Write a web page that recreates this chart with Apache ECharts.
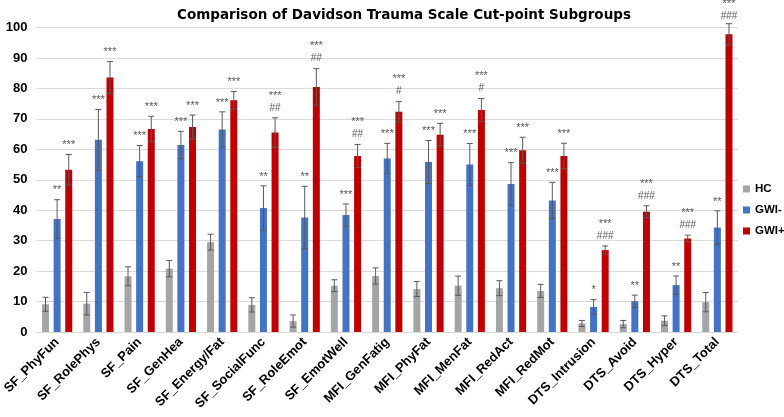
<!DOCTYPE html>
<html>
<head>
<meta charset="utf-8">
<script src="https://cdn.jsdelivr.net/npm/echarts@6/dist/echarts.min.js"></script>
<style>
html,body{margin:0;padding:0;background:#fff;}
#chart{width:784px;height:417px;}
</style>
</head>
<body>
<div id="chart"></div>
<script>
const categories = ['SF_PhyFun','SF_RolePhys','SF_Pain','SF_GenHea','SF_Energy/Fat','SF_SocialFunc','SF_RoleEmot','SF_EmotWell','MFI_GenFatig','MFI_PhyFat','MFI_MenFat','MFI_RedAct','MFI_RedMot','DTS_Intrusion','DTS_Avoid','DTS_Hyper','DTS_Total'];
const yTicks = [0,10,20,30,40,50,60,70,80,90,100];

const hcValues = [9.1, 9.3, 18.3, 20.8, 29.5, 8.9, 3.6, 15.2, 18.4, 14.1, 15.2, 14.4, 13.5, 2.8, 2.6, 3.7, 9.8];
const hcErr    = [2.3, 3.7, 3.1, 2.7, 2.6, 2.35, 2.0, 1.95, 2.65, 2.5, 3.15, 2.45, 2.15, 1.0, 1.2, 1.6, 3.15];

const gwiNegValues = [37.1, 63.1, 56.1, 61.4, 66.5, 40.7, 37.6, 38.4, 57.0, 55.8, 55.0, 48.6, 43.2, 8.2, 10.1, 15.4, 34.3];
const gwiNegErr    = [6.35, 10.0, 5.15, 4.5, 5.8, 7.3, 10.25, 3.65, 4.95, 7.1, 6.9, 7.0, 5.95, 2.45, 2.0, 3.0, 5.5];

const gwiPosValues = [53.3, 83.6, 66.7, 67.3, 76.1, 65.5, 80.5, 57.8, 72.3, 64.8, 72.9, 59.7, 57.8, 26.9, 39.5, 30.7, 97.8];
const gwiPosErr    = [5.0, 5.2, 4.15, 3.95, 2.9, 4.85, 6.0, 3.8, 3.35, 3.75, 3.8, 4.25, 4.2, 1.35, 1.95, 1.1, 3.45];

const hcMarks     = ['','','','','','','','','','','','','','','','',''];
const gwiNegMarks = ['**','***','***','***','***','**','**','***','***','***','***','***','***','*','**','**','**'];
const gwiPosStars = ['***','***','***','***','***','***','***','***','***','***','***','***','***','***','***','***','***'];
const gwiPosHash  = ['','','','','','##','##','##','#','','#','','','###','###','###','###'];
const gwiNegHash  = ['','','','','','','','','','','','','','','','',''];

const BAR_W = 7, BAR_GAP = 0.66;
const SPACING = BAR_W * (1 + BAR_GAP);

function errSeries(name, values, errs, stars, hashes, slot) {
  return {
    type: 'custom',
    name: name + '_err',
    z: 5,
    clip: false,
    data: values.map((v, i) => [i, v, errs[i]]),
    encode: { x: 0, y: 1 },
    renderItem: function (params, api) {
      const i = api.value(0), v = api.value(1), e = api.value(2);
      const c = api.coord([i, v]);
      const x = c[0] + slot * SPACING;
      const yt = api.coord([i, v + e])[1];
      const yb = api.coord([i, v - e])[1];
      const st = { stroke: '#595959', lineWidth: 1 };
      const ch = [
        { type: 'line', shape: { x1: x, y1: yt, x2: x, y2: yb }, style: st },
        { type: 'line', shape: { x1: x - 3, y1: yt, x2: x + 3, y2: yt }, style: st },
        { type: 'line', shape: { x1: x - 3, y1: yb, x2: x + 3, y2: yb }, style: st }
      ];
      const h = hashes[i], s = stars[i];
      const hy = Math.max(yt - 10, 16);
      if (h) {
        ch.push({ type: 'text', style: { text: h, x: x, y: hy, align: 'center', verticalAlign: 'middle', fill: '#595959', font: '10px "Liberation Sans", Arial, sans-serif' } });
      }
      if (s) {
        const sy = h ? hy - 12.3 : yt - 9.3;
        ch.push({ type: 'text', style: { text: s, x: x, y: sy, align: 'center', verticalAlign: 'middle', fill: '#595959', font: '11px "Liberation Sans", Arial, sans-serif' } });
      }
      return { type: 'group', children: ch };
    }
  };
}

const chart = echarts.init(document.getElementById('chart'), null, { renderer: 'canvas' });
chart.setOption({
  animation: false,
  backgroundColor: '#fff',
  title: {
    text: 'Comparison of Davidson Trauma Scale Cut-point Subgroups',
    left: 399,
    textAlign: 'center',
    top: 3,
    textStyle: { fontFamily: 'DejaVu Sans', fontWeight: 'bold', fontSize: 13.5, color: '#000' }
  },
  legend: {
    data: ['HC', 'GWI-', 'GWI+'],
    orient: 'vertical',
    left: 743,
    top: 182,
    padding: 0,
    itemWidth: 7,
    itemHeight: 7,
    itemGap: 7,
    icon: 'rect',
    textStyle: { fontFamily: 'Liberation Sans', fontWeight: 'bold', fontSize: 11.5, color: '#000', lineHeight: 14 }
  },
  grid: { left: 31, right: 46, top: 27.5, bottom: 85, containLabel: false },
  xAxis: {
    type: 'category',
    data: categories,
    axisLine: { lineStyle: { color: '#d9d9d9' } },
    axisTick: { show: false },
    axisLabel: { interval: 0, rotate: 45, margin: 8, fontFamily: 'Liberation Sans', fontWeight: 'bold', fontSize: 13, color: '#000' }
  },
  yAxis: {
    type: 'value',
    min: yTicks[0],
    max: yTicks[yTicks.length - 1],
    interval: 10,
    axisLine: { show: false },
    axisTick: { show: false },
    splitLine: { lineStyle: { color: '#d9d9d9' } },
    axisLabel: { margin: 9, fontFamily: 'Liberation Sans', fontWeight: 'bold', fontSize: 13, color: '#000' }
  },
  series: [
    { type: 'bar', name: 'HC', data: hcValues, barWidth: BAR_W, barGap: (BAR_GAP * 100) + '%', itemStyle: { color: '#a5a5a5' } },
    { type: 'bar', name: 'GWI-', data: gwiNegValues, barWidth: BAR_W, barGap: (BAR_GAP * 100) + '%', itemStyle: { color: '#4472c4' } },
    { type: 'bar', name: 'GWI+', data: gwiPosValues, barWidth: BAR_W, barGap: (BAR_GAP * 100) + '%', itemStyle: { color: '#c00000' } },
    errSeries('HC', hcValues, hcErr, hcMarks, hcMarks, -1),
    errSeries('GWI-', gwiNegValues, gwiNegErr, gwiNegMarks, gwiNegHash, 0),
    errSeries('GWI+', gwiPosValues, gwiPosErr, gwiPosStars, gwiPosHash, 1)
  ]
});
</script>
</body>
</html>
